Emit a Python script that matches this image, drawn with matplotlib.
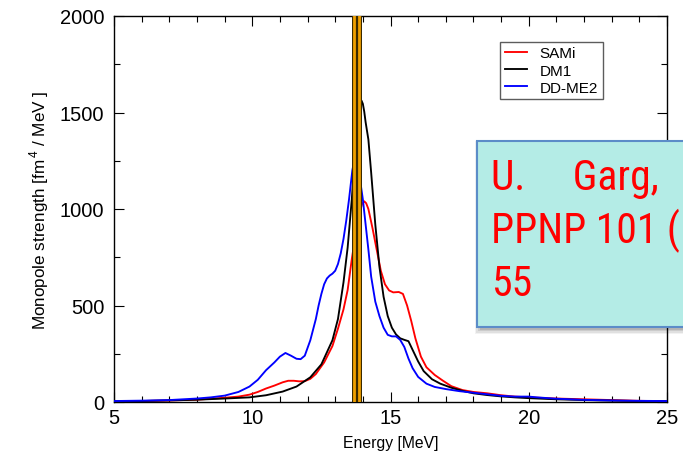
import matplotlib
matplotlib.use("Agg")
import matplotlib.pyplot as plt
import matplotlib.patheffects as pe
from matplotlib.patches import Rectangle
from matplotlib import font_manager
from matplotlib.font_manager import FontProperties

# ---- data -----------------------------------------------------------------
sami_e = [5.0, 6.0, 7.0, 8.0, 9.0, 9.5, 9.9, 10.2, 10.5, 10.8, 11.1, 11.3, 11.5,
          11.7, 11.9, 12.1, 12.3, 12.6, 12.9, 13.1, 13.3, 13.45, 13.6, 13.75,
          13.9, 13.97, 14.05, 14.12, 14.2, 14.35, 14.5, 14.65, 14.8, 14.95,
          15.1, 15.3, 15.45, 15.6, 15.75, 15.9, 16.1, 16.3, 16.6, 16.9, 17.2,
          17.6, 18.0, 18.5, 19.0, 19.5, 20.0, 21.0, 22.0, 23.0, 24.0, 25.0]
sami_s = [3, 5, 8, 12, 22, 28, 38, 52, 70, 85, 102, 110, 110,
          107, 108, 120, 145, 205, 290, 380, 480, 580, 740, 880,
          990, 1025, 1040, 1030, 1000, 900, 790, 680, 610, 578,
          568, 570, 560, 500, 420, 330, 235, 180, 140, 110, 82,
          62, 52, 45, 35, 28, 24, 18, 14, 10, 6, 4]

dm1_e = [5.0, 6.0, 7.0, 8.0, 9.0, 9.9, 10.5, 11.1, 11.6, 12.1, 12.5, 12.9, 13.1,
         13.3, 13.45, 13.6, 13.7, 13.78, 13.85, 13.9, 13.95, 14.0, 14.05, 14.1,
         14.2, 14.3, 14.45, 14.6, 14.75, 14.9, 15.05, 15.2, 15.35, 15.5, 15.65,
         15.8, 16.0, 16.2, 16.5, 16.8, 17.2, 17.6, 18.0, 18.5, 19.0, 19.5, 20.0,
         21.0, 22.0, 23.0, 24.0, 25.0]
dm1_s = [3, 5, 8, 12, 18, 24, 35, 54, 80, 128, 195, 320, 430,
         620, 800, 1050, 1260, 1420, 1520, 1555, 1562, 1545, 1505, 1450,
         1360, 1190, 920, 700, 545, 445, 385, 350, 330, 322, 315,
         270, 210, 160, 118, 95, 74, 58, 45, 36, 29, 24, 20,
         14, 10, 7, 5, 4]

ddme2_e = [5.0, 6.0, 7.0, 8.0, 8.5, 9.0, 9.5, 9.9, 10.2, 10.5, 10.8, 11.0, 11.2,
           11.4, 11.6, 11.75, 11.9, 12.1, 12.3, 12.4, 12.5, 12.6, 12.7, 12.8,
           12.9, 13.0, 13.1, 13.2, 13.3, 13.4, 13.5, 13.62, 13.68, 13.73, 13.78,
           13.85, 13.92, 14.0, 14.1, 14.2, 14.3, 14.45, 14.6, 14.75, 14.9, 15.05,
           15.2, 15.35, 15.5, 15.65, 15.8, 16.0, 16.3, 16.6, 17.0, 17.5, 18.0,
           18.5, 19.0, 19.5, 20.0, 20.3, 21.0, 22.0, 23.0, 24.0, 25.0]
ddme2_s = [5, 7, 10, 18, 24, 33, 52, 80, 115, 165, 205, 235, 254,
           240, 224, 222, 240, 320, 430, 500, 560, 610, 640, 655,
           665, 680, 715, 770, 845, 940, 1050, 1200, 1245, 1265, 1255,
           1205, 1130, 1050, 920, 790, 650, 520, 445, 385, 348, 340,
           340, 322, 285, 225, 175, 130, 95, 78, 67, 56, 48,
           40, 32, 28, 28, 24, 17, 11, 8, 6, 5]

series_names = ["SAMi", "DM1", "DD-ME2"]
series_colors = ["#ff0000", "#000000", "#0000ff"]

# experimental centroid markers [MeV]
exp_lines = [13.69, 13.87]

x_ticks = [5, 10, 15, 20, 25]
y_ticks = [0, 500, 1000, 1500, 2000]

note_lines = ["U.     Garg,", "PPNP 101 (", "55"]

# ---- figure ---------------------------------------------------------------
plt.rcParams["font.family"] = ["Liberation Sans", "DejaVu Sans"]
plt.rcParams["mathtext.fontset"] = "custom"
plt.rcParams["mathtext.rm"] = "Liberation Sans"

fig = plt.figure(figsize=(6.83, 4.64), dpi=100)
ax = fig.add_axes([114 / 683, 61 / 464, 553 / 683, 386 / 464])

for e, s, name, col in zip([sami_e, dm1_e, ddme2_e], [sami_s, dm1_s, ddme2_s],
                           series_names, series_colors):
    ax.plot(e, s, color=col, lw=1.35, label=name, solid_joinstyle="round",
            zorder=3)

for xv in exp_lines:
    ax.axvline(xv, color="#f0a000", lw=2.0, zorder=4,
               path_effects=[pe.Stroke(linewidth=3.6, foreground="#3a2a00"),
                             pe.Normal()])

ax.set_xlim(5, 25)
ax.set_ylim(0, 2000)
ax.set_xticks(x_ticks)
ax.set_yticks(y_ticks)
ax.set_xticks(range(5, 26), minor=True)
ax.set_yticks(range(0, 2001, 250), minor=True)
ax.tick_params(which="both", direction="in", top=True, right=True,
               width=0.8, labelsize=14.5)
ax.tick_params(which="major", length=7.5)
ax.tick_params(which="minor", length=4)
ax.tick_params(axis="x", pad=4)
ax.tick_params(axis="y", pad=7)
for sp in ax.spines.values():
    sp.set_linewidth(1.0)

ax.set_xlabel("Energy [MeV]", fontsize=11.3, labelpad=6)
ax.set_ylabel("Monopole strength [fm$^{\\,4}$ / MeV ]", fontsize=12.3,
              labelpad=6)

leg = ax.legend(loc="upper left", bbox_to_anchor=(0.698, 0.933),
                fontsize=11, frameon=True, fancybox=False, handlelength=1.5,
                handletextpad=0.8, borderpad=0.3, labelspacing=0.2,
                borderaxespad=0)
leg.get_frame().set_edgecolor("#333333")
leg.get_frame().set_linewidth(1.0)

# reference note box with a soft drop shadow
bx0, by0, bx1, by1 = 477 / 683, (464 - 328) / 464, 1.02, (464 - 142) / 464
for k, a in enumerate([0.05, 0.07, 0.09, 0.11]):
    grow = 0.0025 * (3 - k)
    fig.patches.append(Rectangle((bx0 + 0.004 - grow, by0 - 0.007 - grow),
                                 bx1 - bx0 + 2 * grow, by1 - by0 + 2 * grow,
                                 transform=fig.transFigure,
                                 facecolor="#000000", alpha=a,
                                 edgecolor="none", zorder=5))
fig.patches.append(Rectangle((bx0, by0), bx1 - bx0, by1 - by0,
                             transform=fig.transFigure, facecolor="#b4ece6",
                             edgecolor="#5b8cc8", linewidth=1.5, zorder=6))


def condensed_font():
    preferred = ["Liberation Sans Narrow", "Roboto Condensed", "Arimo",
                 "Open Sans Condensed", "DejaVu Sans Condensed"]
    found = {}
    for f in font_manager.fontManager.ttflist:
        narrow = ("Narrow" in f.name or "Condensed" in f.name
                  or str(f.stretch) in ("condensed", "semi-condensed"))
        if narrow and f.style == "normal" and f.weight in (400, "normal", "regular"):
            found.setdefault(f.name, f.fname)
    for name in preferred:
        if name in found:
            return FontProperties(fname=found[name])
    for name, path in found.items():
        return FontProperties(fname=path)
    return None


note_fp = condensed_font()
if note_fp is not None:
    note_fp.set_size(30)
else:
    note_fp = FontProperties(family="Liberation Sans", size=25)

for i, line in enumerate(note_lines):
    fig.text(491 / 683, (464 - 190 - 53 * i) / 464, line, color="#ff0000",
             fontproperties=note_fp, ha="left", va="baseline", zorder=7)

fig.savefig("out.png", dpi=100)
